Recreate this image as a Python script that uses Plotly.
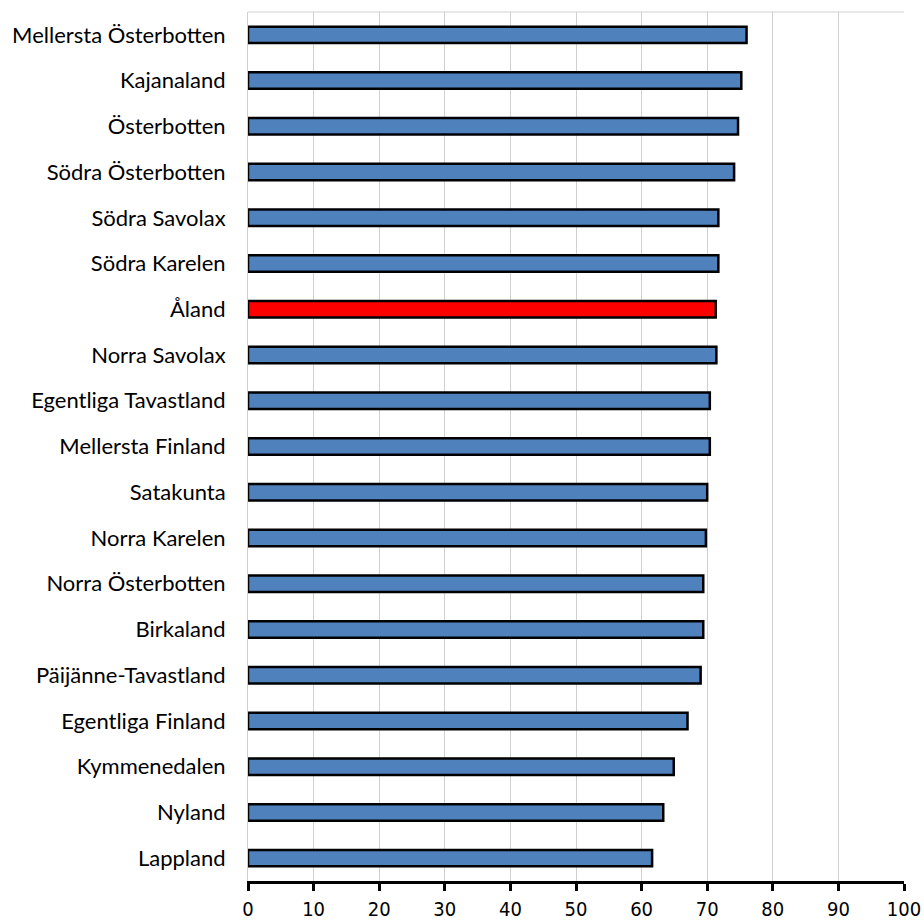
import plotly.graph_objects as go

regions = ["Mellersta Österbotten", "Kajanaland", "Österbotten", "Södra Österbotten",
           "Södra Savolax", "Södra Karelen", "Åland", "Norra Savolax",
           "Egentliga Tavastland", "Mellersta Finland", "Satakunta", "Norra Karelen",
           "Norra Österbotten", "Birkaland", "Päijänne-Tavastland", "Egentliga Finland",
           "Kymmenedalen", "Nyland", "Lappland"]
values = [76.0, 75.2, 74.7, 74.1, 71.7, 71.7, 71.3, 71.4, 70.4, 70.4, 70.0, 69.8,
          69.4, 69.4, 69.0, 67.0, 64.9, 63.3, 61.6]
highlight = "Åland"
x_ticks = [0, 10, 20, 30, 40, 50, 60, 70, 80, 90, 100]

colors = ["#ff0000" if r == highlight else "#4f81bd" for r in regions]

fig = go.Figure(go.Bar(
    x=values, y=regions, orientation="h",
    marker=dict(color=colors, line=dict(color="#000000", width=2.5)),
    width=0.36,
))

fig.update_layout(
    template="none",
    width=924, height=922,
    margin=dict(l=248, r=20, t=12, b=41),
    plot_bgcolor="white", paper_bgcolor="white",
    showlegend=False,
    font=dict(family="Lato, sans-serif", color="#000000"),
    xaxis=dict(range=[0, 100], tickvals=x_ticks, showgrid=True, gridcolor="#d0d0d0", gridwidth=1,
               showline=True, linecolor="#000000", linewidth=2.5, ticks="outside", ticklen=7,
               tickwidth=2.5, tickcolor="#000000",
               tickfont=dict(size=20, family="DejaVu Sans Condensed, Lato, sans-serif"),
               ticklabelstandoff=1, zeroline=False, automargin=False,
               ticklabeloverflow="allow"),
    yaxis=dict(autorange="reversed", showline=True, linecolor="#d0d0d0", linewidth=1,
               showgrid=False, zeroline=False,
               tickfont=dict(size=22, family="Lato, sans-serif"), ticks="",
               ticklabelstandoff=17, automargin=False),
    shapes=[dict(type="line", xref="paper", yref="paper", x0=0, x1=1, y0=1, y1=1,
                 line=dict(color="#d0d0d0", width=1))],
)

fig.write_html("out.html", config={"displayModeBar": False},
               post_script="document.body.style.margin='0px';document.body.style.overflow='hidden';")
